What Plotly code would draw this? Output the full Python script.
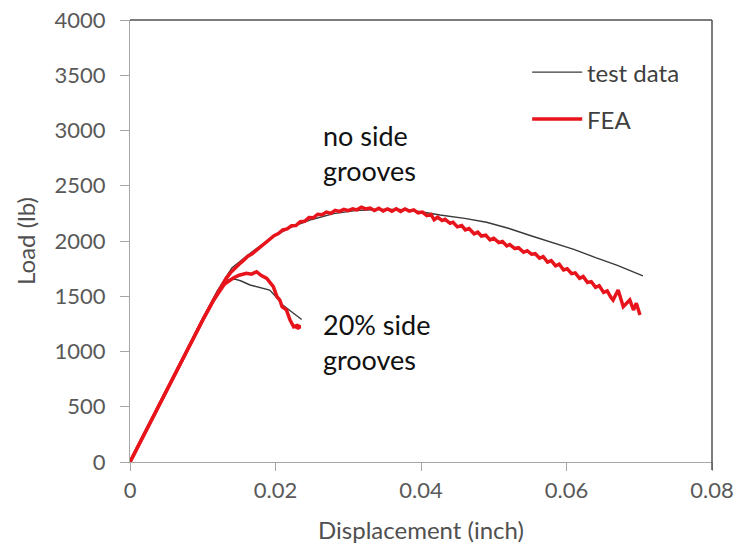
import plotly.graph_objects as go

# --- Load-displacement data (displacement in inch, load in lb) ---

# Test data, specimen without side grooves
test_plain_x = [0, 0.002, 0.004, 0.006, 0.008, 0.010, 0.012, 0.014, 0.016, 0.018,
                0.020, 0.022, 0.025, 0.028, 0.031, 0.034, 0.037, 0.040, 0.0426,
                0.046, 0.049, 0.052, 0.055, 0.058, 0.061, 0.064, 0.067, 0.0705]
test_plain_y = [0, 262, 522, 780, 1040, 1300, 1550, 1755, 1862, 1962,
                2050, 2122, 2195, 2248, 2275, 2285, 2285, 2265, 2235,
                2205, 2170, 2115, 2050, 1990, 1925, 1850, 1780, 1685]

# FEA, specimen without side grooves
fea_plain_x = [0, 0.002, 0.004, 0.006, 0.008, 0.010, 0.0115, 0.0125, 0.0132,
               0.0138, 0.0144, 0.0150, 0.0156, 0.0162, 0.0168, 0.0174, 0.0180,
               0.0186, 0.0192, 0.0198, 0.0204, 0.0210, 0.0216, 0.0222, 0.0228,
               0.0234, 0.0240, 0.0246, 0.0252, 0.0258, 0.0264, 0.0270, 0.0276,
               0.0282, 0.0288, 0.0294, 0.0300, 0.0306, 0.0312, 0.0318, 0.0324,
               0.0330, 0.0336, 0.0342, 0.0348, 0.0354, 0.0360, 0.0366, 0.0372,
               0.0378, 0.0384, 0.0390, 0.0396, 0.0402, 0.0408, 0.0414, 0.0418,
               0.0423, 0.0429, 0.0433, 0.0440, 0.0444, 0.0450, 0.0456, 0.0461,
               0.0466, 0.0473, 0.0478, 0.0483, 0.0489, 0.0495, 0.0500, 0.0507,
               0.0512, 0.0518, 0.0522, 0.0529, 0.0534, 0.0541, 0.0546, 0.0552,
               0.0557, 0.0563, 0.0568, 0.0574, 0.0579, 0.0585, 0.0590, 0.0596,
               0.0601, 0.0607, 0.0612, 0.0618, 0.0623, 0.0629, 0.0634, 0.0640,
               0.0645, 0.0651, 0.0656, 0.0661, 0.0664, 0.0671, 0.0678, 0.0687,
               0.0692, 0.0696, 0.0701]
fea_plain_y = [0, 258, 516, 774, 1030, 1285, 1466, 1585, 1660,
               1712, 1755, 1790, 1825, 1862, 1885, 1918, 1950,
               1988, 2012, 2048, 2068, 2100, 2110, 2138, 2140,
               2175, 2178, 2212, 2210, 2242, 2238, 2262, 2250,
               2278, 2268, 2286, 2275, 2292, 2282, 2305, 2290,
               2298, 2275, 2296, 2272, 2290, 2270, 2292, 2268,
               2290, 2270, 2282, 2255, 2262, 2230, 2240, 2192,
               2215, 2185, 2196, 2160, 2170, 2128, 2140, 2100,
               2112, 2065, 2080, 2045, 2052, 2010, 2025, 1985,
               1995, 1955, 1968, 1932, 1940, 1898, 1912, 1880,
               1885, 1845, 1858, 1808, 1822, 1775, 1790, 1738,
               1748, 1705, 1712, 1662, 1678, 1625, 1632, 1580,
               1595, 1535, 1548, 1490, 1466, 1556, 1405, 1466,
               1376, 1436, 1330]

# Test data, 20% side-grooved specimen
test_groove_x = [0, 0.004, 0.008, 0.010, 0.012, 0.0135, 0.0144, 0.0152, 0.0165,
                 0.0183, 0.0192, 0.0200, 0.0210, 0.0222, 0.0236]
test_groove_y = [0, 522, 1040, 1300, 1540, 1650, 1655, 1640, 1602,
                 1572, 1556, 1500, 1420, 1360, 1290]

# FEA, 20% side-grooved specimen
fea_groove_x = [0, 0.004, 0.008, 0.010, 0.0115, 0.0130, 0.0142, 0.0150, 0.0160,
                0.0167, 0.0174, 0.0180, 0.0188, 0.0197, 0.0202, 0.0206, 0.0209,
                0.0215, 0.0220, 0.0225, 0.0230, 0.0234, 0.0231, 0.0226]
fea_groove_y = [0, 516, 1030, 1285, 1466, 1610, 1665, 1690, 1708,
                1700, 1722, 1690, 1662, 1587, 1496, 1466, 1405,
                1376, 1285, 1224, 1236, 1224, 1212, 1230]

x_ticks = [0, 0.02, 0.04, 0.06, 0.08]
x_tick_text = ["0", "0.02", "0.04", "0.06", "0.08"]
y_ticks = [0, 500, 1000, 1500, 2000, 2500, 3000, 3500, 4000]

TEST_COLOR = "#3a3a3a"
FEA_COLOR = "#e8141c"
TEXT_FONT = "Lato, Carlito, Calibri, sans-serif"

fig = go.Figure()

for xs, ys in [(test_plain_x, test_plain_y), (test_groove_x, test_groove_y)]:
    fig.add_trace(go.Scatter(x=xs, y=ys, mode="lines", name="test data",
                             showlegend=False,
                             line=dict(color=TEST_COLOR, width=1.4)))
for xs, ys in [(fea_plain_x, fea_plain_y), (fea_groove_x, fea_groove_y)]:
    fig.add_trace(go.Scatter(x=xs, y=ys, mode="lines", name="FEA",
                             showlegend=False,
                             line=dict(color=FEA_COLOR, width=3.5)))

# Curve labels
fig.add_annotation(x=0.0263, y=2800, xanchor="left", yanchor="middle",
                   text="no side<br>grooves", showarrow=False, align="left",
                   font=dict(family=TEXT_FONT, size=27, color="#111111"))
fig.add_annotation(x=0.0263, y=1085, xanchor="left", yanchor="middle",
                   text="20% side<br>grooves", showarrow=False, align="left",
                   font=dict(family=TEXT_FONT, size=27, color="#111111"))

# Legend: line samples with their labels
legend_items = [("test data", TEST_COLOR, 1.4, 0.882), ("FEA", FEA_COLOR, 3.5, 0.776)]
for label, color, width, ypos in legend_items:
    fig.add_shape(type="line", xref="paper", yref="paper",
                  x0=0.691, x1=0.777, y0=ypos, y1=ypos,
                  line=dict(color=color, width=width))
    fig.add_annotation(xref="paper", yref="paper", x=0.782, y=ypos,
                       xanchor="left", yanchor="middle", text=label,
                       showarrow=False,
                       font=dict(family=TEXT_FONT, size=24, color="#404040"))

# Dark frame on the top and right edges of the plot area
frame = dict(color="#505050", width=1.5)
fig.add_shape(type="line", xref="paper", yref="paper", x0=0, x1=1, y0=1, y1=1, line=frame)
fig.add_shape(type="line", xref="paper", yref="paper", x0=1, x1=1, y0=1, y1=-0.018, line=frame)

axis_font = dict(family=TEXT_FONT, size=22, color="#595959")
title_font = dict(family=TEXT_FONT, size=24, color="#505050")
fig.update_xaxes(range=[0, 0.08], tickvals=x_ticks, ticktext=x_tick_text,
                 showgrid=False, zeroline=False, showline=True, automargin=False,
                 linecolor="#a6a6a6", linewidth=1.2,
                 ticks="outside", ticklen=8, tickcolor="#a6a6a6",
                 tickfont=axis_font,
                 title=dict(text="Displacement (inch)", standoff=20, font=title_font))
fig.update_yaxes(range=[0, 4000], tickvals=y_ticks,
                 showgrid=False, zeroline=False, showline=True, automargin=False,
                 linecolor="#a6a6a6", linewidth=1.2,
                 ticks="outside", ticklen=9, tickcolor="#a6a6a6",
                 tickfont=axis_font, ticklabelstandoff=10,
                 title=dict(text="Load (lb)", standoff=12, font=title_font))

fig.update_layout(
    width=738, height=550,
    margin=dict(l=130, r=26, t=20, b=88),
    paper_bgcolor="white", plot_bgcolor="white",
    showlegend=False,
)

fig.write_html("out.html")
